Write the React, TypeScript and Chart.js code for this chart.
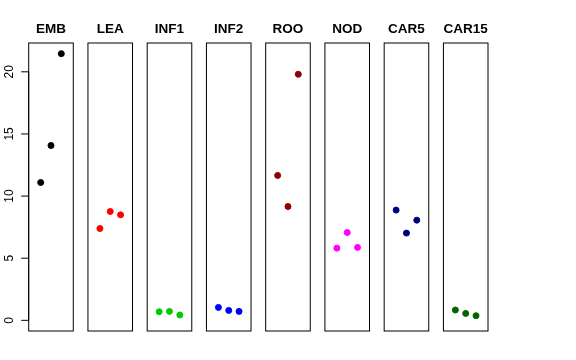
import React, { useEffect, useRef } from "react";
import { Chart, registerables } from "chart.js";

Chart.register(...registerables);

const panels = ["EMB", "LEA", "INF1", "INF2", "ROO", "NOD", "CAR5", "CAR15"];
const colors = ["#000000", "#FF0000", "#00CD00", "#0000FF", "#8B0000", "#FF00FF", "#000080", "#006400"];
const EMB = [11.09, 14.07, 21.46];
const LEA = [7.39, 8.76, 8.49];
const INF1 = [0.69, 0.72, 0.43];
const INF2 = [1.04, 0.8, 0.72];
const ROO = [11.66, 9.16, 19.8];
const NOD = [5.81, 7.07, 5.87];
const CAR5 = [8.87, 7.02, 8.06];
const CAR15 = [0.83, 0.56, 0.37];
const series = [EMB, LEA, INF1, INF2, ROO, NOD, CAR5, CAR15];
const yTicks = [0, 5, 10, 15, 20];

// layout constants
const PITCH = 5.74; // panel spacing in x-units
const PANEL_MIN = -0.16;
const PANEL_MAX = 4.16;
const Y_MIN = -0.858;
const Y_MAX = 22.318;

const panelPlugin = {
  id: "panels",
  afterDatasetsDraw(chart: any) {
    const ctx = chart.ctx;
    const xs = chart.scales.x;
    const ys = chart.scales.y;
    const top = ys.getPixelForValue(Y_MAX);
    const bottom = ys.getPixelForValue(Y_MIN);
    ctx.save();
    ctx.strokeStyle = "#000";
    ctx.lineWidth = 1;
    panels.forEach((name, i) => {
      const l = xs.getPixelForValue(i * PITCH + PANEL_MIN);
      const r = xs.getPixelForValue(i * PITCH + PANEL_MAX);
      ctx.strokeRect(l, top, r - l, bottom - top);
      ctx.fillStyle = "#000";
      ctx.font = "bold 13.5px 'Liberation Sans', Arial, sans-serif";
      ctx.textAlign = "center";
      ctx.textBaseline = "alphabetic";
      ctx.fillText(name, (l + r) / 2, 33.3);
    });
    // y axis
    const ax = xs.getPixelForValue(PANEL_MIN);
    ctx.beginPath();
    ctx.moveTo(ax, ys.getPixelForValue(yTicks[0]));
    ctx.lineTo(ax, ys.getPixelForValue(yTicks[yTicks.length - 1]));
    ctx.stroke();
    ctx.font = "12px 'Liberation Sans', Arial, sans-serif";
    yTicks.forEach((t) => {
      const py = ys.getPixelForValue(t);
      ctx.beginPath();
      ctx.moveTo(ax - 7.5, py);
      ctx.lineTo(ax, py);
      ctx.stroke();
      ctx.save();
      ctx.translate(12.7, py);
      ctx.rotate(-Math.PI / 2);
      ctx.textAlign = "center";
      ctx.textBaseline = "alphabetic";
      ctx.fillText(String(t), 0, 0);
      ctx.restore();
    });
    ctx.restore();
  },
};

export default function App() {
  const ref = useRef<HTMLCanvasElement>(null);
  useEffect(() => {
    document.body.style.margin = "0";
    const datasets = series.map((vals, i) => ({
      label: panels[i],
      data: vals.map((v, j) => ({ x: i * PITCH + j + 1, y: v })),
      backgroundColor: colors[i],
      borderColor: colors[i],
      pointRadius: 3,
      borderWidth: 1,
      showLine: false,
    }));
    const chart = new Chart(ref.current!, {
      type: "scatter",
      data: { datasets },
      options: {
        animation: false,
        responsive: false,
        layout: { padding: { left: 28.7, right: 88, top: 43, bottom: 29 } },
        plugins: { legend: { display: false }, tooltip: { enabled: false } },
        scales: {
          x: { type: "linear", display: false, min: PANEL_MIN, max: 7 * PITCH + PANEL_MAX },
          y: { type: "linear", display: false, min: Y_MIN, max: Y_MAX },
        },
      },
      plugins: [panelPlugin],
    });
    return () => chart.destroy();
  }, []);
  return (
    <div style={{ width: 576, height: 360 }}>
      <canvas ref={ref} width={576} height={360} style={{ display: "block" }} />
    </div>
  );
}
